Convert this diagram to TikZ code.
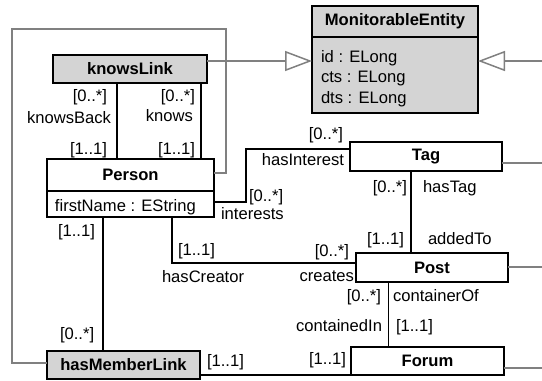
\documentclass[tikz,border=0pt]{standalone}
\usepackage{fontspec}
\setmainfont{Liberation Sans}
\usetikzlibrary{arrows.meta}
\definecolor{boxfill}{RGB}{212,212,212}
\definecolor{genline}{RGB}{128,128,128}

\begin{document}
\begin{tikzpicture}[x=1pt,y=-1pt,
  txt/.style={font=\fontsize{16.6}{20.5}\selectfont, inner sep=0pt, outer sep=0pt,
              text height=12pt, text depth=3.5pt},
  cls/.style={draw=black, line width=1.6pt, rectangle, anchor=north west,
              inner sep=0pt, outer sep=0pt,
              font=\fontsize{16.6}{20.5}\selectfont\bfseries},
  grey/.style={fill=boxfill},
  assoc/.style={draw=black, line width=1.6pt},
  gen/.style={draw=genline, line width=1.5pt},
  inherit/.style={gen, -{Triangle[open, length=27pt, width=20pt, line width=1.5pt]}}
]
\useasboundingbox (0,0) rectangle (542,381);

% ---- anchor points for the generalisation lines ----
\coordinate (loopTR) at (226,29);
\coordinate (loopTL) at (12,29);
\coordinate (rgen) at (542,61);
\coordinate (tagout) at (542,163);
\coordinate (postout) at (542,267);
\coordinate (forumout) at (542,368);

% ---- classes ----
\node[cls, grey, minimum width=166pt, minimum height=31pt] (meh) at (312,6) {MonitorableEntity};
\node[cls, grey, minimum width=166pt, minimum height=76pt] (meb) at (312,37) {};
\node[txt, anchor=north west, align=left, text height=, text depth=] (meattr) at (321,50)
  {id : ELong\\cts : ELong\\dts : ELong};

\node[cls, grey, minimum width=154pt, minimum height=28pt] (klink) at (53,55) {knowsLink};

\node[cls, minimum width=167pt, minimum height=32pt] (personh) at (47,159) {Person};
\node[cls, minimum width=167pt, minimum height=26pt] (personb) at (47,191) {};
\node[txt, anchor=west] (pattr) at (55,207) {firstName : EString};

\node[cls, minimum width=152pt, minimum height=29pt] (tag) at (350,142) {Tag};
\node[cls, minimum width=152pt, minimum height=29pt] (post) at (356,253) {Post};
\node[cls, minimum width=153pt, minimum height=28pt] (forum) at (351,347) {Forum};
\node[cls, grey, minimum width=153pt, minimum height=28pt] (hml) at (47,351) {hasMemberLink};

% ---- generalisations ----
\coordinate (gk) at ([yshift=8pt]klink.east);
\draw[inherit] (gk) -- (gk -| meb.west);
\draw[inherit] (rgen) -- (rgen -| meb.east);
\draw[gen] ([yshift=2pt]personh.east) -| (loopTR) -- (loopTL) |- ([yshift=2pt]hml.west);
\draw[gen] (tagout -| tag.east) -- (tagout);
\draw[gen] (postout -| post.east) -- (postout);
\draw[gen] (forumout -| forum.east) -- (forumout);

% ---- associations ----
\draw[assoc] ([xshift=-13pt]klink.south) -- ([xshift=-13pt]klink.south |- personh.north);
\draw[assoc] ([xshift=71pt]klink.south) -- ([xshift=71pt]klink.south |- personh.north);
\draw[assoc] ([xshift=-27.5pt]personb.south) -- ([xshift=-27.5pt]personb.south |- hml.north);
\draw[assoc] ([xshift=41.5pt]personb.south) |- ([yshift=4.5pt]post.west);
\coordinate (ibend) at (246,149);
\draw[assoc] ([yshift=2pt]personb.east) -| (ibend) -- ([yshift=7.5pt]tag.west);
\draw[assoc] ([xshift=-15pt]tag.south) -- ([xshift=-15pt]tag.south |- post.north);
\draw[assoc] ([xshift=-43.5pt]post.south) -- ([xshift=-43.5pt]post.south |- forum.north);
\draw[assoc] (hml.east |- forum.south) -- (forum.south west);

% ---- role names and multiplicities ----
\node[txt, anchor=east] (l1) at (107,97) {[0..*]};
\node[txt, anchor=east] (l2) at (111,119) {knowsBack};
\node[txt, anchor=east] (l3) at (107,150) {[1..1]};
\node[txt, anchor=east] (l4) at (195,97) {[0..*]};
\node[txt, anchor=east] (l5) at (193,117) {knows};
\node[txt, anchor=east] (l6) at (195,150) {[1..1]};

\node[txt, anchor=east] (l7) at (343,135) {[0..*]};
\node[txt, anchor=east] (l8) at (344,161) {hasInterest};
\node[txt, anchor=west] (l9) at (249,197) {[0..*]};
\node[txt, anchor=west] (l10) at (221,215) {interests};

\node[txt, anchor=east] (l11) at (407,188) {[0..*]};
\node[txt, anchor=west] (l12) at (423,188) {hasTag};
\node[txt, anchor=east] (l13) at (404,240) {[1..1]};
\node[txt, anchor=west] (l14) at (428,240) {addedTo};

\node[txt, anchor=west] (l15) at (178,251) {[1..1]};
\node[txt, anchor=west] (l16) at (162,278) {hasCreator};
\node[txt, anchor=east] (l17) at (349,252) {[0..*]};
\node[txt, anchor=east] (l18) at (354,277) {creates};

\node[txt, anchor=east] (l19) at (381,297) {[0..*]};
\node[txt, anchor=west] (l20) at (393,297) {containerOf};
\node[txt, anchor=east] (l21) at (382,327) {containedIn};
\node[txt, anchor=west] (l22) at (396,327) {[1..1]};

\node[txt, anchor=west] (l23) at (58,232) {[1..1]};
\node[txt, anchor=west] (l24) at (60,335) {[0..*]};
\node[txt, anchor=west] (l25) at (207,362) {[1..1]};
\node[txt, anchor=east] (l26) at (346,360) {[1..1]};
\end{tikzpicture}
\end{document}
